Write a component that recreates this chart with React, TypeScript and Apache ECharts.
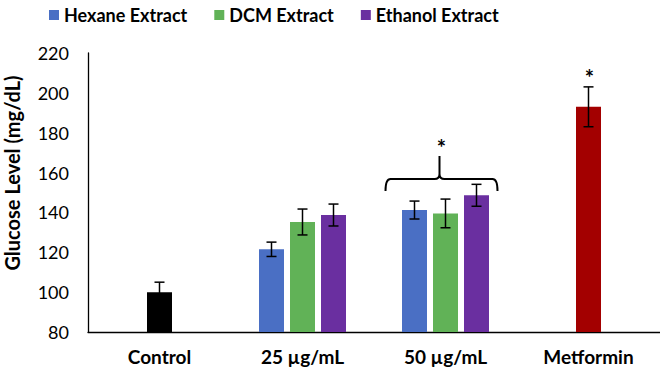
import React, { useEffect, useRef } from "react";
import * as echarts from "echarts";

const categories = ["Control", "25 µg/mL", "50 µg/mL", "Metformin"];
const seriesNames = ["Hexane Extract", "DCM Extract", "Ethanol Extract"];
const hexaneValues: (number | null)[] = [null, 121.5, 141.2, null];
const dcmValues: (number | null)[] = [100, 135.2, 139.5, 193];
const ethanolValues: (number | null)[] = [null, 138.7, 148.6, null];
const hexaneErr: (number | null)[] = [null, 3.6, 4.5, null];
const dcmErr: (number | null)[] = [5, 6.5, 7.2, 10];
const ethanolErr: (number | null)[] = [null, 5.5, 5.5, null];
const yTicks = { min: 80, max: 220, interval: 20 };
// significance annotations: [categoryIndex, level]
const bracketMarks = [[2, 156.8]];
const starMarks = [[2, 172.5], [3, 207.5]];

const COLORS = ["#4A6FC4", "#61B257", "#6A2FA0"];
const CONTROL_COLOR = "#000000";
const METFORMIN_COLOR = "#A30000";
const FONT = "Lato";

export default function App() {
  const ref = useRef<HTMLDivElement>(null);
  useEffect(() => {
    if (!ref.current) return;
    const chart = echarts.init(ref.current, undefined, { renderer: "svg" });
    const BAR_W = 25;
    const STEP = 31;

    const errData: any[] = [];
    [hexaneErr, dcmErr, ethanolErr].forEach((errs, si) => {
      const vals = [hexaneValues, dcmValues, ethanolValues][si];
      errs.forEach((e, ci) => {
        const v = vals[ci];
        if (e != null && v != null) errData.push([ci, v, e, si - 1]);
      });
    });

    const dcmData = dcmValues.map((v, i) => {
      if (i === 0) return { value: v, itemStyle: { color: CONTROL_COLOR } };
      if (i === 3) return { value: v, itemStyle: { color: METFORMIN_COLOR } };
      return v;
    });

    chart.setOption({
      animation: false,
      grid: { left: 88, right: -2, top: 53, bottom: 39, containLabel: false },
      legend: {
        top: 1,
        left: 44,
        itemWidth: 10,
        itemHeight: 10,
        itemGap: 27,
        icon: "rect",
        data: seriesNames,
        textStyle: { fontFamily: FONT, fontSize: 18, fontWeight: "bold", color: "#000" },
      },
      xAxis: {
        type: "category",
        data: categories,
        axisLine: { lineStyle: { color: "#000", width: 1.3 } },
        axisTick: { show: false },
        axisLabel: { fontFamily: FONT, fontSize: 19, fontWeight: "bold", color: "#000", margin: 15 },
      },
      yAxis: {
        type: "value",
        min: yTicks.min,
        max: yTicks.max,
        interval: yTicks.interval,
        axisLine: { show: true, lineStyle: { color: "#000", width: 1.3 } },
        axisTick: { show: false },
        splitLine: { show: false },
        axisLabel: { fontFamily: FONT, fontSize: 18, color: "#000", margin: 19 },
      },
      graphic: [
        {
          type: "text",
          x: 12,
          y: 173,
          rotation: Math.PI / 2,
          style: {
            text: "Glucose Level (mg/dL)",
            fontFamily: FONT,
            fontSize: 20,
            fontWeight: "bold",
            fill: "#000",
            align: "center",
            verticalAlign: "middle",
          },
        },
      ],
      series: [
        {
          name: seriesNames[0],
          type: "bar",
          data: hexaneValues,
          barWidth: BAR_W,
          barGap: "24%",
          itemStyle: { color: COLORS[0] },
        },
        {
          name: seriesNames[1],
          type: "bar",
          data: dcmData,
          barWidth: BAR_W,
          barGap: "24%",
          itemStyle: { color: COLORS[1] },
        },
        {
          name: seriesNames[2],
          type: "bar",
          data: ethanolValues,
          barWidth: BAR_W,
          barGap: "24%",
          itemStyle: { color: COLORS[2] },
        },
        {
          type: "custom",
          data: errData,
          z: 10,
          renderItem: (params: any, api: any) => {
            const ci = api.value(0);
            const v = api.value(1);
            const e = api.value(2);
            const off = api.value(3) * STEP;
            const top = api.coord([ci, v + e]);
            const bot = api.coord([ci, v - e]);
            const x = top[0] + off;
            const cap = 5;
            const style = { stroke: "#000", lineWidth: 1.5 };
            return {
              type: "group",
              children: [
                { type: "line", shape: { x1: x, y1: top[1], x2: x, y2: bot[1] }, style },
                { type: "line", shape: { x1: x - cap, y1: top[1], x2: x + cap, y2: top[1] }, style },
                { type: "line", shape: { x1: x - cap, y1: bot[1], x2: x + cap, y2: bot[1] }, style },
              ],
            };
          },
        },
        {
          type: "custom",
          data: bracketMarks,
          z: 10,
          renderItem: (params: any, api: any) => {
            const p = api.coord([api.value(0), api.value(1)]);
            const xc = p[0] - 6;
            const yh = p[1];
            const x0 = xc - 54;
            const x1 = xc + 58;
            const yEnd = yh + 12;
            const yPeak = yh - 23;
            const r = 5;
            const d =
              `M${x0},${yEnd} Q${x0},${yh} ${x0 + r},${yh} L${xc - r},${yh} Q${xc},${yh} ${xc},${yh - r} L${xc},${yPeak} ` +
              `M${xc},${yh - r} Q${xc},${yh} ${xc + r},${yh} L${x1 - r},${yh} Q${x1},${yh} ${x1},${yEnd}`;
            return {
              type: "path",
              shape: { pathData: d },
              style: { stroke: "#000", lineWidth: 2, fill: null },
            };
          },
        },
        {
          type: "custom",
          data: starMarks,
          z: 10,
          renderItem: (params: any, api: any) => {
            const ci = api.value(0);
            const p = api.coord([ci, api.value(1)]);
            return {
              type: "text",
              x: p[0] + (ci === 2 ? -4 : 1),
              y: p[1],
              style: {
                text: "*",
                fontFamily: FONT,
                fontSize: 22,
                fontWeight: "bold",
                fill: "#000",
                align: "center",
                verticalAlign: "middle",
              },
            };
          },
        },
      ],
    });
    return () => chart.dispose();
  }, []);
  return <div ref={ref} style={{ width: 660, height: 371, position: "absolute", left: 0, top: 0 }} />;
}
